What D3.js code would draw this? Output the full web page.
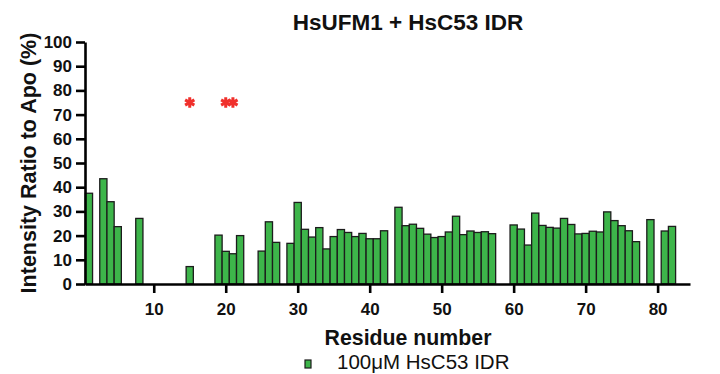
<!DOCTYPE html>
<html><head><meta charset="utf-8">
<script src="https://cdn.jsdelivr.net/npm/d3@7"></script>
<style>body{margin:0;background:#fff}svg{display:block}text{font-family:Arial,"Liberation Sans",sans-serif}</style>
</head><body><svg id="c" width="720" height="374"></svg>
<script>
const residues = [1,3,4,5,8,15,19,20,21,22,25,26,27,29,30,31,32,33,34,35,36,37,38,39,40,41,42,44,45,46,47,48,49,50,51,52,53,54,55,56,57,60,61,62,63,64,65,66,67,68,69,70,71,72,73,74,75,76,77,79,81,82];
const ratios = [37.5,43.5,34,23.7,27.1,7.2,20.2,13.5,12.5,20,13.6,25.7,17.2,16.8,33.7,22.6,19.4,23.3,14.5,19.6,22.5,21.3,19.6,20.9,18.7,18.7,22,31.7,24.1,24.7,23,20.6,19.2,19.6,21.5,28,20.4,21.9,21.3,21.6,20.8,24.4,22.7,16.1,29.3,24.2,23.4,23.1,27.1,24.6,20.7,20.9,21.8,21.5,29.8,26.2,24.1,22,17.5,26.6,21.9,23.8];
const sigResidues = [15,20,21];
const sigLevel = 75;
const xTicks = [10,20,30,40,50,60,70,80];
const yTicks = [0,10,20,30,40,50,60,70,80,90,100];
const title = "HsUFM1 + HsC53 IDR";
const xLabel = "Residue number";
const yLabel = "Intensity Ratio to Apo (%)";
const seriesName = "100μM HsC53 IDR";

const svg = d3.select("#c");
const x = d3.scaleLinear().domain([0.45, 84.5]).range([85, 690]);
const y = d3.scaleLinear().domain([0, 100]).range([284, 42]);
const fill = "#3db54a";

svg.append("g").selectAll("rect").data(residues).join("rect")
  .attr("x", d => x(d - 0.5)).attr("width", d => x(d + 0.5) - x(d - 0.5))
  .attr("y", (d, i) => y(ratios[i])).attr("height", (d, i) => y(0) - y(ratios[i]))
  .attr("fill", fill).attr("stroke", "#1c1c1c").attr("stroke-width", 1.3);

const ast = d3.symbol().type(d3.symbolAsterisk).size(80);
svg.append("g").selectAll("path").data(sigResidues).join("path")
  .attr("transform", d => `translate(${x(d)},${y(sigLevel)})`)
  .attr("d", ast).attr("stroke", "#f0302c").attr("stroke-width", 3).attr("fill", "none");

const yAxis = svg.append("g").attr("transform", "translate(85,0)")
  .call(d3.axisLeft(y).tickValues(yTicks).tickSize(9).tickPadding(4).tickSizeOuter(0));
const xAxis = svg.append("g").attr("transform", "translate(0,284)")
  .call(d3.axisBottom(x).tickValues(xTicks).tickSize(9).tickPadding(10).tickSizeOuter(0));
[yAxis, xAxis].forEach(g => {
  g.select(".domain").attr("stroke", "#000").attr("stroke-width", 2.6);
  g.selectAll(".tick line").attr("stroke", "#000").attr("stroke-width", 2.6);
  g.selectAll(".tick text").attr("fill", "#111").style("font-size", "17px").style("font-weight", "bold").style("font-family", "Arial, 'Liberation Sans', sans-serif");
});

svg.append("text").attr("x", 408).attr("y", 30).attr("text-anchor", "middle")
  .style("font-size", "22.5px").style("font-weight", "bold").attr("fill", "#111").text(title);
svg.append("text").attr("x", 408).attr("y", 345).attr("text-anchor", "middle")
  .style("font-size", "21.3px").style("font-weight", "bold").attr("fill", "#111").text(xLabel);
svg.append("text").attr("transform", "translate(36,163) rotate(-90)").attr("text-anchor", "middle")
  .style("font-size", "21.5px").style("font-weight", "bold").attr("fill", "#111").text(yLabel);

svg.append("rect").attr("x", 305).attr("y", 360).attr("width", 6).attr("height", 8)
  .attr("fill", fill).attr("stroke", "#1c1c1c").attr("stroke-width", 1.2);
svg.append("text").attr("x", 337).attr("y", 369)
  .style("font-size", "20.5px").attr("fill", "#111").text(seriesName);
</script></body></html>
